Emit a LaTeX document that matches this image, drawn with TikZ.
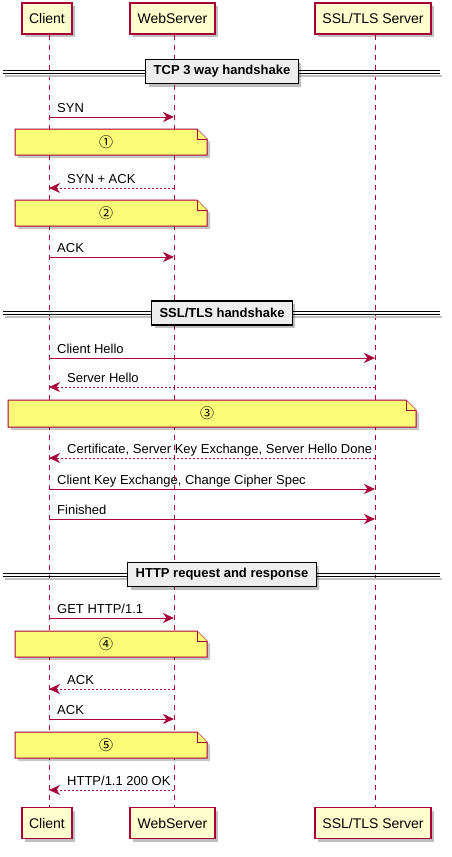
\documentclass[tikz,border=0pt]{standalone}
\usepackage{fontspec}
\setmainfont{Liberation Sans}
\newfontfamily\circfont{Noto Sans CJK SC}
\usetikzlibrary{arrows.meta,shadows}
\definecolor{plred}{HTML}{A80036}
\definecolor{partfill}{HTML}{FEFECE}
\definecolor{notefill}{HTML}{FBFB77}
\definecolor{divfill}{HTML}{EEEEEE}
\newcommand\mynote[6]{%
 \fill[black,opacity=0.22,shift={(3,3)}] (#1,#2) -- ({#3-10},#2) -- (#3,{#2+10}) -- (#3,#4) -- (#1,#4) -- cycle;
 \draw[notebox] (#1,#2) -- ({#3-10},#2) -- (#3,{#2+10}) -- (#3,#4) -- (#1,#4) -- cycle;
 \draw[notebox] ({#3-10},#2) -- ({#3-10},{#2+10}) -- (#3,{#2+10});
 \node[notetext] (#5) at ({(#1+#3-10)/2},{(#2+#4)/2}) {#6};}
\newcommand\mydivider[3]{%
 \draw[black!25,line width=2pt] (5,{#1+4}) -- (442,{#1+4});
 \draw[divline] (3,{#1-1.5}) -- (440,{#1-1.5});
 \draw[divline] (3,{#1+1.5}) -- (440,{#1+1.5});
 \node[divbox] (#2) at (222,#1) {#3};}
\begin{document}
\begin{tikzpicture}[x=1pt,y=-1pt,
 shad/.style={drop shadow={shadow xshift=3pt,shadow yshift=-3pt,opacity=0.25,fill=black}},
 part/.style={draw=plred,line width=1.2pt,fill=partfill,inner sep=0pt,minimum height=31pt,font=\fontsize{14}{16}\selectfont,shad},
 life/.style={draw=plred,line width=1pt,dash pattern=on 5pt off 5pt},
 msg/.style={draw=plred,line width=1pt,-{Stealth[length=11pt,width=10pt,inset=3.5pt]}},
 ret/.style={msg,dash pattern=on 2pt off 2pt},
 lbl/.style={font=\fontsize{13}{15}\selectfont,anchor=base west,inner sep=0pt},
 divbox/.style={draw=black,line width=1.5pt,fill=divfill,font=\bfseries\fontsize{13}{15}\selectfont,inner xsep=8pt,inner ysep=0pt,minimum height=24pt,shad},
 divline/.style={draw=black,line width=1pt},
 notebox/.style={draw=plred,line width=1pt,fill=notefill},
 notetext/.style={font=\circfont\fontsize{14}{16}\selectfont,inner sep=0pt}
]
\useasboundingbox (0,0) rectangle (451,857);
% participants
\node[part,minimum width=50pt] (ct) at (47,18.5) {Client};
\node[part,minimum width=85pt] (wt) at (172.5,18.5) {WebServer};
\node[part,minimum width=116pt] (st) at (373,18.5) {SSL/TLS Server};
\node[part,minimum width=50pt] (cb) at (47,823) {Client};
\node[part,minimum width=85pt] (wb) at (172.5,823) {WebServer};
\node[part,minimum width=116pt] (sb) at (373,823) {SSL/TLS Server};
% lifelines
\draw[life] ([xshift=2pt]ct.south) -- ([xshift=2pt]cb.north);
\draw[life] ([xshift=1.5pt]wt.south) -- ([xshift=1.5pt]wb.north);
\draw[life] ([xshift=2pt]st.south) -- ([xshift=2pt]sb.north);
% dividers
\mydivider{71.5}{d1}{TCP 3 way handshake}
\mydivider{313}{d2}{SSL/TLS handshake}
\mydivider{574.5}{d3}{HTTP request and response}
% messages
\coordinate (c1) at (49,117); \coordinate (w1) at (174,117);
\draw[msg] (c1) -- (w1);
\node[lbl] (l1) at (57,112) {SYN};
\mynote{15}{129}{207}{155}{n1}{①}
\coordinate (c2) at (49,188); \coordinate (w2) at (174,188);
\draw[ret] (w2) -- (c2);
\node[lbl] (l2) at (67,183) {SYN + ACK};
\mynote{15}{200}{207}{226}{n2}{②}
\coordinate (c3) at (49,257); \coordinate (w3) at (174,257);
\draw[msg] (c3) -- (w3);
\node[lbl] (l3) at (57,252) {ACK};
\coordinate (c4) at (49,358); \coordinate (s4) at (375,358);
\draw[msg] (c4) -- (s4);
\node[lbl] (l4) at (57,353) {Client Hello};
\coordinate (c5) at (49,387); \coordinate (s5) at (375,387);
\draw[ret] (s5) -- (c5);
\node[lbl] (l5) at (67,382) {Server Hello};
\mynote{8}{400}{416}{427}{n3}{③}
\coordinate (c6) at (49,458); \coordinate (s6) at (375,458);
\draw[ret] (s6) -- (c6);
\node[lbl] (l6) at (67,453) {Certificate, Server Key Exchange, Server Hello Done};
\coordinate (c7) at (49,489); \coordinate (s7) at (375,489);
\draw[msg] (c7) -- (s7);
\node[lbl] (l7) at (57,484) {Client Key Exchange, Change Cipher Spec};
\coordinate (c8) at (49,519); \coordinate (s8) at (375,519);
\draw[msg] (c8) -- (s8);
\node[lbl] (l8) at (57,514) {Finished};
\coordinate (c9) at (49,618); \coordinate (w9) at (174,618);
\draw[msg] (c9) -- (w9);
\node[lbl] (l9) at (57,613) {GET HTTP/1.1};
\mynote{15}{631}{207}{657}{n4}{④}
\coordinate (c10) at (49,689); \coordinate (w10) at (174,689);
\draw[ret] (w10) -- (c10);
\node[lbl] (l10) at (67,684) {ACK};
\coordinate (c11) at (49,719); \coordinate (w11) at (174,719);
\draw[msg] (c11) -- (w11);
\node[lbl] (l11) at (57,714) {ACK};
\mynote{15}{732}{207}{758}{n5}{⑤}
\coordinate (c12) at (49,790); \coordinate (w12) at (174,790);
\draw[ret] (w12) -- (c12);
\node[lbl] (l12) at (67,785) {HTTP/1.1 200 OK};
\end{tikzpicture}
\end{document}
